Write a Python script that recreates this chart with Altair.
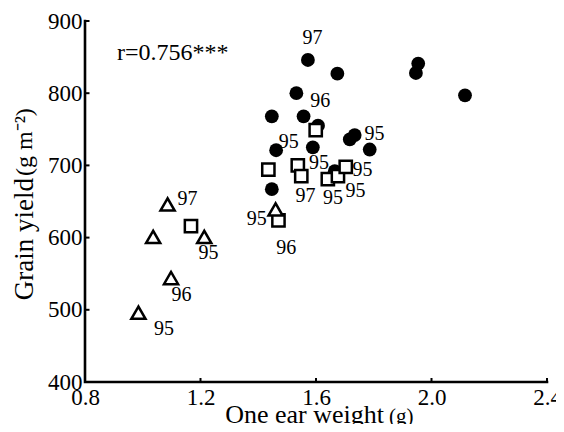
import altair as alt
import pandas as pd

# ---- data ----
circle_x = [1.572, 1.532, 1.674, 1.946, 1.954, 2.116, 1.447, 1.557, 1.607, 1.462, 1.589, 1.447, 1.717, 1.734, 1.786, 1.665]
circle_y = [846, 800, 827, 828, 841, 797, 768, 768, 755, 721, 725, 667, 736, 742, 722, 692]

square_x = [1.599, 1.435, 1.537, 1.549, 1.641, 1.676, 1.703, 1.167, 1.470]
square_y = [749, 694, 700, 685, 681, 685, 698, 616, 624]

tri_x = [1.086, 1.036, 1.213, 1.098, 0.985, 1.460]
tri_y = [646, 601, 601, 544, 496, 639]

label_text = ["97", "96", "95", "95", "95", "95", "97", "95", "95", "97", "95", "96", "95", "95", "96"]
label_x = [1.588, 1.615, 1.506, 1.803, 1.610, 1.761, 1.564, 1.659, 1.737, 1.155, 1.228, 1.134, 1.074, 1.395, 1.497]
label_y = [876, 789, 732, 743, 703, 693, 657, 655, 664, 653, 578, 521, 473, 626, 586]

x_ticks = [0.8, 1.2, 1.6, 2.0, 2.4]
y_ticks = [400, 500, 600, 700, 800, 900]

annotation = "r=0.756***"
x_title = "One ear weight"
x_unit = "(g)"
y_title = "Grain yield"
y_unit = "(g m\u207b\u00b2)"

FONT = "Liberation Serif"
W, H = 462, 361

xs = alt.Scale(domain=[0.8, 2.4], nice=False, zero=False)
ys = alt.Scale(domain=[400, 900], nice=False, zero=False)

xaxis = alt.Axis(values=x_ticks, format=".1f", ticks=False, grid=False, domain=False,
                 labelFontSize=23, labelFont=FONT, labelColor="black",
                 labelPadding=4, labelFlush=False, labelOverlap=False, title=None)
yaxis = alt.Axis(values=y_ticks, format="d", ticks=False, grid=False, domain=False,
                 labelFontSize=23, labelFont=FONT, labelColor="black",
                 labelPadding=3, labelFlush=False, labelOverlap=False, title=None)

circ_df = pd.DataFrame({"x": circle_x, "y": circle_y})
sq_df = pd.DataFrame({"x": square_x, "y": square_y})
tri_df = pd.DataFrame({"x": tri_x, "y": tri_y})
lab_df = pd.DataFrame({"x": label_x, "y": label_y, "t": label_text})
xt_df = pd.DataFrame({"v": x_ticks[1:], "b": [y_ticks[0]] * 4})
yt_df = pd.DataFrame({"v": y_ticks[1:], "b": [x_ticks[0]] * 5})
frame_df = pd.DataFrame({"x": [x_ticks[0], x_ticks[0], x_ticks[-1]],
                         "y": [y_ticks[-1], y_ticks[0], y_ticks[0]],
                         "o": [0, 1, 2]})

# L-shaped axis frame as a line through the scales
frame = alt.Chart(frame_df).mark_line(color="black", strokeWidth=2.6, strokeCap="square").encode(
    x=alt.X("x:Q", scale=xs), y=alt.Y("y:Q", scale=ys), order="o:Q")
# inward tick marks as custom symbols anchored on the axes
xticks = alt.Chart(xt_df).mark_point(shape="M0,0L0,-1", filled=False, stroke="black", strokeWidth=2,
                                     size=64, opacity=1).encode(
    x=alt.X("v:Q", scale=xs), y=alt.Y("b:Q", scale=ys))
yticks = alt.Chart(yt_df).mark_point(shape="M0,0L1,0", filled=False, stroke="black", strokeWidth=2,
                                     size=81, opacity=1).encode(
    y=alt.Y("v:Q", scale=ys), x=alt.X("b:Q", scale=xs))

circles = alt.Chart(circ_df).mark_point(shape="circle", filled=True, color="black", size=190, opacity=1).encode(
    x=alt.X("x:Q", scale=xs, axis=xaxis), y=alt.Y("y:Q", scale=ys, axis=yaxis))
squares = alt.Chart(sq_df).mark_point(shape="square", filled=True, fill="white", stroke="black",
                                      strokeWidth=2.5, size=150, opacity=1).encode(
    x=alt.X("x:Q", scale=xs), y=alt.Y("y:Q", scale=ys))
tris = alt.Chart(tri_df).mark_point(shape="triangle-up", filled=True, fill="white", stroke="black",
                                    strokeWidth=2.5, size=200, opacity=1).encode(
    x=alt.X("x:Q", scale=xs), y=alt.Y("y:Q", scale=ys))
labels = alt.Chart(lab_df).mark_text(font=FONT, fontSize=20, color="black", align="center",
                                     baseline="middle").encode(
    x=alt.X("x:Q", scale=xs), y=alt.Y("y:Q", scale=ys), text="t:N")

ann = alt.Chart(pd.DataFrame({"t": [annotation]})).mark_text(
    font=FONT, fontSize=24, color="black", align="left", baseline="middle").encode(
    x=alt.value(32), y=alt.value(32), text="t:N")

xt1 = alt.Chart(pd.DataFrame({"t": [x_title]})).mark_text(
    font=FONT, fontSize=26, color="black", align="right", baseline="alphabetic").encode(
    x=alt.value(299), y=alt.value(402), text="t:N")
xt2 = alt.Chart(pd.DataFrame({"t": [x_unit]})).mark_text(
    font=FONT, fontSize=21, color="black", align="left", baseline="alphabetic").encode(
    x=alt.value(304), y=alt.value(402), text="t:N")
yt1 = alt.Chart(pd.DataFrame({"t": [y_title]})).mark_text(
    font=FONT, fontSize=27, color="black", align="right", baseline="alphabetic", angle=270).encode(
    x=alt.value(-52), y=alt.value(157), text="t:N")
yt2 = alt.Chart(pd.DataFrame({"t": [y_unit]})).mark_text(
    font=FONT, fontSize=24, color="black", align="left", baseline="alphabetic", angle=270).encode(
    x=alt.value(-53), y=alt.value(155), text="t:N")

chart = alt.layer(frame, xticks, yticks, circles, squares, tris, labels, ann, xt1, xt2, yt1, yt2).properties(
    width=W, height=H,
    background="white",
    autosize=alt.AutoSizeParams(type="none"),
    padding={"left": 77, "top": 13, "right": 9, "bottom": 42},
).configure_view(stroke=None)

chart.save("out.html", embed_options={"renderer": "svg", "actions": False})
